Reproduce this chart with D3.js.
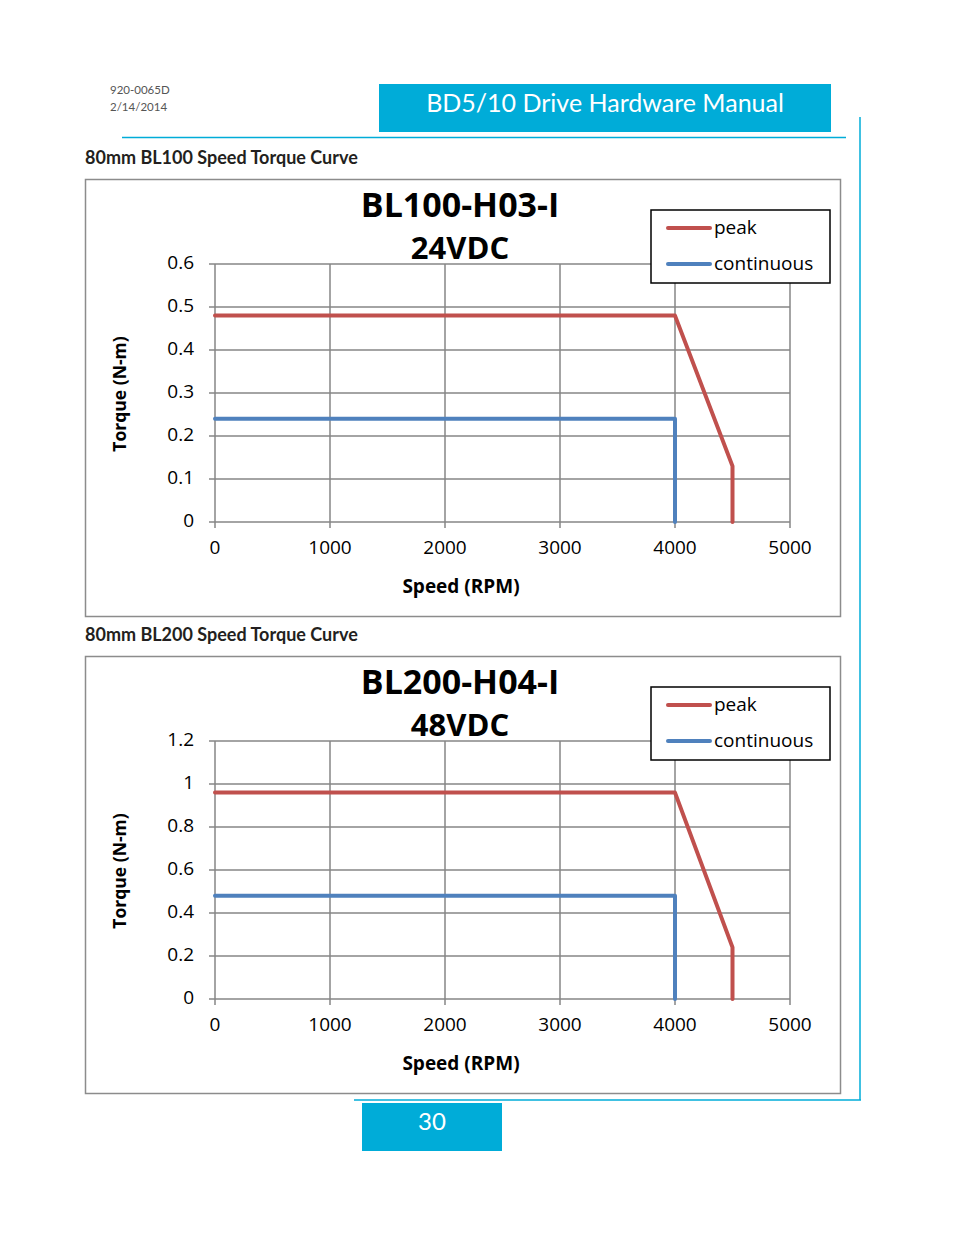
<!DOCTYPE html>
<html><head><meta charset="utf-8">
<script src="https://cdn.jsdelivr.net/npm/d3@7"></script>
<style>body{margin:0;background:#fff}svg{display:block}</style>
</head><body>
<script>
// ---- data ----
const speedTicks = [0, 1000, 2000, 3000, 4000, 5000];
const torqueTicks1 = [0, 0.1, 0.2, 0.3, 0.4, 0.5, 0.6];
const torqueTicks2 = [0, 0.2, 0.4, 0.6, 0.8, 1, 1.2];
const bl100PeakSpeed = [0, 4000, 4500, 4500];
const bl100PeakTorque = [0.48, 0.48, 0.13, 0];
const bl100ContSpeed = [0, 4000, 4000];
const bl100ContTorque = [0.24, 0.24, 0];
const bl200PeakSpeed = [0, 4000, 4500, 4500];
const bl200PeakTorque = [0.96, 0.96, 0.24, 0];
const bl200ContSpeed = [0, 4000, 4000];
const bl200ContTorque = [0.48, 0.48, 0];
const seriesNames = ["peak", "continuous"];

const W = 954, H = 1235;
const svg = d3.select("body").append("svg").attr("width", W).attr("height", H);
const blue = "#00ACD8";
const font = "'Open Sans', sans-serif";
const hfont = "Lato, sans-serif";

// header
svg.append("text").attr("x", 110).attr("y", 94).attr("font-family", hfont).attr("font-size", 11.5).attr("fill", "#555").text("920-0065D");
svg.append("text").attr("x", 110).attr("y", 111).attr("font-family", hfont).attr("font-size", 11.5).attr("fill", "#555").text("2/14/2014");
svg.append("rect").attr("x", 379).attr("y", 84).attr("width", 452).attr("height", 48).attr("fill", blue);
svg.append("text").attr("x", 605).attr("y", 112).attr("text-anchor", "middle").attr("font-family", hfont).attr("font-size", 25).attr("fill", "#fff").text("BD5/10 Drive Hardware Manual");
svg.append("line").attr("x1", 122).attr("x2", 846).attr("y1", 137.5).attr("y2", 137.5).attr("stroke", blue).attr("stroke-width", 1.5);
svg.append("line").attr("x1", 860).attr("x2", 860).attr("y1", 117).attr("y2", 1100).attr("stroke", blue).attr("stroke-width", 1.5);
svg.append("line").attr("x1", 354).attr("x2", 861).attr("y1", 1100).attr("y2", 1100).attr("stroke", blue).attr("stroke-width", 1.5);
svg.append("rect").attr("x", 362).attr("y", 1103).attr("width", 140).attr("height", 48).attr("fill", blue);
svg.append("text").attr("x", 432).attr("y", 1130).attr("text-anchor", "middle").attr("font-family", hfont).attr("font-size", 24).attr("fill", "#fff").text("30");

function chart(oy, heading, title, sub, yTicks, yMax, peakX, peakY, contX, contY) {
  svg.append("text").attr("x", 85).attr("y", oy - 15).attr("font-family", hfont).attr("font-weight", "bold").attr("font-size", 18).attr("fill", "#231f20").text(heading);
  const g = svg.append("g").attr("transform", `translate(0,${oy})`);
  g.append("rect").attr("x", 85.5).attr("y", 0.5).attr("width", 755).attr("height", 437).attr("fill", "#fff").attr("stroke", "#8c8c8c").attr("stroke-width", 1.5);
  const x = d3.scaleLinear().domain([0, 5000]).range([215, 790]);
  const y = d3.scaleLinear().domain([0, yMax]).range([343, 85]);
  // grid
  g.append("g").selectAll("line").data(yTicks).join("line")
    .attr("x1", 209).attr("x2", 790).attr("y1", d => y(d)).attr("y2", d => y(d)).attr("stroke", "#868686").attr("stroke-width", 1.5);
  g.append("g").selectAll("line").data(speedTicks).join("line")
    .attr("x1", d => x(d)).attr("x2", d => x(d)).attr("y1", y(yMax)).attr("y2", y(0) + 6).attr("stroke", "#868686").attr("stroke-width", 1.5);
  g.append("g").selectAll("text").data(yTicks).join("text")
    .attr("x", 194).attr("y", d => y(d) + 5).attr("text-anchor", "end").attr("font-family", font).attr("font-size", 19).attr("fill", "#000").text(d => d);
  g.append("g").selectAll("text").data(speedTicks).join("text")
    .attr("x", d => x(d)).attr("y", 375).attr("text-anchor", "middle").attr("font-family", font).attr("font-size", 19).attr("fill", "#000").text(d => d);
  g.append("text").attr("x", 461).attr("y", 414).attr("text-anchor", "middle").attr("font-family", font).attr("font-weight", "bold").attr("font-size", 19).text("Speed (RPM)");
  g.append("text").attr("transform", "translate(126,215) rotate(-90)").attr("text-anchor", "middle").attr("font-family", font).attr("font-weight", "bold").attr("font-size", 17.5).text("Torque (N-m)");
  const line = d3.line().x(d => x(d[0])).y(d => y(d[1]));
  g.append("path").attr("d", line(contX.map((v, i) => [v, contY[i]]))).attr("fill", "none").attr("stroke", "#4F81BD").attr("stroke-width", 4).attr("stroke-linecap", "round").attr("stroke-linejoin", "round");
  g.append("path").attr("d", line(peakX.map((v, i) => [v, peakY[i]]))).attr("fill", "none").attr("stroke", "#C0504D").attr("stroke-width", 4).attr("stroke-linecap", "round").attr("stroke-linejoin", "round");
  // titles
  g.append("text").attr("x", 460).attr("y", 38).attr("text-anchor", "middle").attr("font-family", font).attr("font-weight", "bold").attr("font-size", 34).attr("fill", "#000").text(title);
  g.append("text").attr("x", 460).attr("y", 80).attr("text-anchor", "middle").attr("font-family", font).attr("font-weight", "bold").attr("font-size", 31).attr("fill", "#000").text(sub);
  // legend
  const lg = g.append("g");
  lg.append("rect").attr("x", 651).attr("y", 31).attr("width", 179).attr("height", 73).attr("fill", "#fff").attr("stroke", "#000").attr("stroke-width", 1.5);
  const colors = ["#C0504D", "#4F81BD"];
  seriesNames.forEach((n, i) => {
    const ly = 49 + i * 36;
    lg.append("line").attr("x1", 668).attr("x2", 710).attr("y1", ly).attr("y2", ly).attr("stroke", colors[i]).attr("stroke-width", 4).attr("stroke-linecap", "round");
    lg.append("text").attr("x", 714).attr("y", ly + 6).attr("font-family", font).attr("font-size", 19).attr("fill", "#000").text(n);
  });
}
chart(179, "80mm BL100 Speed Torque Curve", "BL100-H03-I", "24VDC", torqueTicks1, 0.6, bl100PeakSpeed, bl100PeakTorque, bl100ContSpeed, bl100ContTorque);
chart(656, "80mm BL200 Speed Torque Curve", "BL200-H04-I", "48VDC", torqueTicks2, 1.2, bl200PeakSpeed, bl200PeakTorque, bl200ContSpeed, bl200ContTorque);
</script>
</body></html>
